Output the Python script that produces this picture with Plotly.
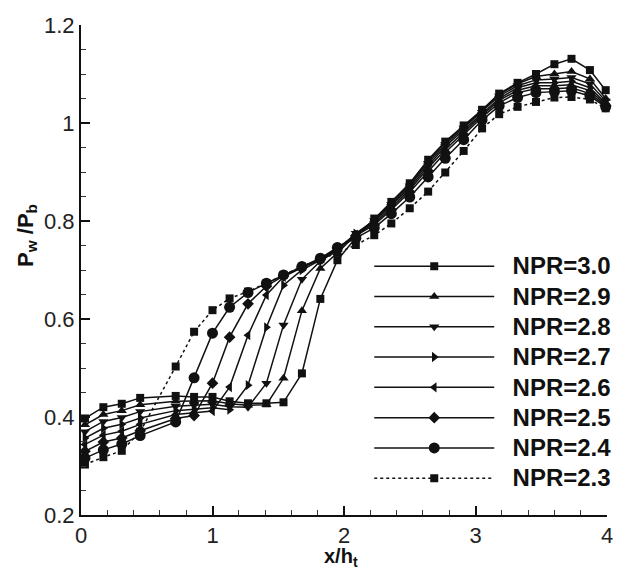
import plotly.graph_objects as go

# x / h_t stations
x_pos = [0.03, 0.17, 0.31, 0.45, 0.72, 0.86, 1.00, 1.13, 1.27, 1.41, 1.54, 1.68, 1.82, 1.95,
         2.09, 2.23, 2.36, 2.50, 2.64, 2.77, 2.91, 3.05, 3.18, 3.32, 3.46, 3.60, 3.73, 3.87, 3.99]

npr_30 = [0.397, 0.420, 0.427, 0.439, 0.443, 0.441, 0.441, 0.432, 0.428, 0.428, 0.430, 0.489, 0.641, 0.720,
          0.766, 0.805, 0.839, 0.877, 0.925, 0.962, 0.995, 1.027, 1.060, 1.082, 1.100, 1.120, 1.131, 1.108, 1.067]
npr_29 = [0.384, 0.405, 0.413, 0.425, 0.432, 0.433, 0.433, 0.427, 0.424, 0.425, 0.479, 0.617, 0.703, 0.735,
          0.772, 0.803, 0.837, 0.875, 0.922, 0.960, 0.993, 1.025, 1.058, 1.080, 1.095, 1.100, 1.105, 1.090, 1.050]
npr_28 = [0.370, 0.391, 0.399, 0.411, 0.422, 0.424, 0.426, 0.421, 0.420, 0.469, 0.588, 0.681, 0.718, 0.740,
          0.775, 0.801, 0.834, 0.872, 0.918, 0.956, 0.990, 1.022, 1.055, 1.076, 1.088, 1.090, 1.093, 1.080, 1.045]
npr_27 = [0.357, 0.377, 0.385, 0.398, 0.413, 0.416, 0.419, 0.415, 0.465, 0.583, 0.669, 0.700, 0.720, 0.742,
          0.774, 0.798, 0.831, 0.868, 0.913, 0.952, 0.986, 1.020, 1.050, 1.072, 1.082, 1.082, 1.085, 1.072, 1.040]
npr_26 = [0.344, 0.363, 0.371, 0.385, 0.405, 0.409, 0.412, 0.461, 0.567, 0.649, 0.686, 0.705, 0.722, 0.744,
          0.772, 0.795, 0.827, 0.864, 0.908, 0.946, 0.981, 1.016, 1.046, 1.067, 1.076, 1.076, 1.078, 1.066, 1.037]
npr_25 = [0.330, 0.349, 0.357, 0.372, 0.397, 0.403, 0.469, 0.563, 0.631, 0.667, 0.688, 0.706, 0.722, 0.745,
          0.770, 0.792, 0.823, 0.859, 0.902, 0.940, 0.976, 1.012, 1.041, 1.062, 1.070, 1.070, 1.072, 1.060, 1.035]
npr_24 = [0.316, 0.333, 0.345, 0.362, 0.390, 0.480, 0.571, 0.624, 0.654, 0.673, 0.690, 0.707, 0.724, 0.746,
          0.765, 0.786, 0.815, 0.849, 0.890, 0.928, 0.966, 1.006, 1.035, 1.052, 1.062, 1.064, 1.066, 1.055, 1.033]
npr_23 = [0.303, 0.318, 0.331, 0.370, 0.503, 0.574, 0.618, 0.642, 0.656, 0.673, 0.690, 0.707, 0.722, 0.735,
          0.751, 0.771, 0.795, 0.826, 0.860, 0.899, 0.943, 0.989, 1.018, 1.033, 1.043, 1.052, 1.053, 1.048, 1.030]

series_names = ["NPR=3.0", "NPR=2.9", "NPR=2.8", "NPR=2.7", "NPR=2.6", "NPR=2.5", "NPR=2.4", "NPR=2.3"]
series_vals = [npr_30, npr_29, npr_28, npr_27, npr_26, npr_25, npr_24, npr_23]
symbols = ["square", "triangle-up", "triangle-down", "triangle-right", "triangle-left",
           "diamond", "circle", "square"]
sizes = [8, 9, 9, 9, 9, 9, 11, 8]
dashes = ["solid"] * 7 + ["dot"]

x_ticks = [0, 1, 2, 3, 4]
y_ticks = [0.2, 0.4, 0.6, 0.8, 1.0, 1.2]
y_tick_text = ["0.2", "0.4", "0.6", "0.8", "1", "1.2"]

FONT = "Liberation Sans, Arial, sans-serif"

fig = go.Figure()
for name, vals, sym, sz, dash in zip(series_names, series_vals, symbols, sizes, dashes):
    fig.add_trace(go.Scatter(
        x=x_pos, y=vals, mode="lines+markers",
        name="<span style='font-size:24px'>\u00a0\u00a0" + name + "</span>",
        line=dict(color="#111111", width=1.5, dash=dash),
        marker=dict(symbol=sym, size=sz, color="#111111", line=dict(width=0)),
        cliponaxis=False,
    ))

tick_font = dict(family=FONT, size=22, color="#222222")
axis_common = dict(
    showgrid=False, zeroline=False, showline=True, linecolor="#111111", linewidth=2,
    ticks="inside", ticklen=9, tickwidth=1.8, tickcolor="#111111", tickfont=tick_font,
    mirror=False, automargin=False,
)

fig.update_xaxes(
    range=[0, 4], tickvals=x_ticks, ticktext=[str(v) for v in x_ticks],
    minor=dict(ticks="inside", ticklen=5, tickwidth=1, tickcolor="#333333", dtick=0.2, tick0=0),
    **axis_common,
)
fig.update_yaxes(
    range=[0.2, 1.2], tickvals=y_ticks, ticktext=y_tick_text,
    minor=dict(ticks="inside", ticklen=5, tickwidth=1, tickcolor="#333333", dtick=0.05, tick0=0.2),
    **axis_common,
)

fig.add_annotation(
    text="<b>x/h<sub>t</sub></b>", xref="paper", yref="paper", x=0.495, y=-0.086,
    xanchor="center", yanchor="middle", showarrow=False,
    font=dict(family=FONT, size=20, color="#111111"),
)
fig.add_annotation(
    text="<b>P<sub>w</sub> /P<sub>b</sub></b>", xref="paper", yref="paper", x=-0.104, y=0.57,
    xanchor="center", yanchor="middle", showarrow=False, textangle=-90,
    font=dict(family=FONT, size=22, color="#111111"),
)

fig.update_layout(
    width=624, height=569,
    margin=dict(l=81, r=7, t=25, b=54),
    paper_bgcolor="white", plot_bgcolor="white",
    showlegend=True,
    legend=dict(
        x=0.548, y=0.549, xanchor="left", yanchor="top",
        bgcolor="rgba(0,0,0,0)", borderwidth=0,
        font=dict(family=FONT, size=21, color="#111111", weight="bold"),
        itemwidth=120, tracegroupgap=0,
    ),
)

fig.write_html(
    "out.html",
    config={"displayModeBar": False},
    post_script="document.body.style.margin='0px'; document.body.style.overflow='hidden';",
)
